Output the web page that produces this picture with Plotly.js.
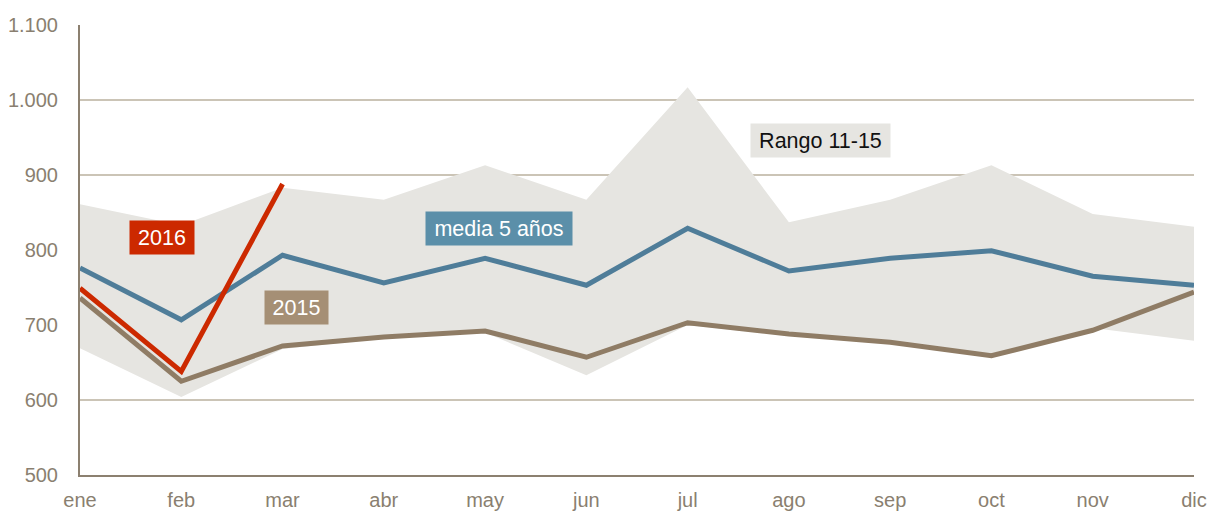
<!DOCTYPE html>
<html>
<head>
<meta charset="utf-8">
<script src="https://cdn.plot.ly/plotly-3.0.1.min.js"></script>
<style>html,body{margin:0;padding:0;background:#fff;}#chart{width:1211px;height:512px;}</style>
</head>
<body>
<div id="chart"></div>
<script>
var months = ["ene","feb","mar","abr","may","jun","jul","ago","sep","oct","nov","dic"];
var rangeUpper = [861, 833, 883, 867, 913, 867, 1017, 837, 867, 913, 848, 831];
var rangeLower = [669, 604, 668, 682, 690, 633, 700, 686, 675, 657, 696, 679];
var media5 = [776, 707, 793, 756, 789, 753, 829, 772, 789, 799, 765, 753];
var y2015 = [736, 625, 672, 684, 692, 657, 703, 688, 677, 659, 693, 744];
var y2016 = [749, 638, 888];
var yTicks = [500, 600, 700, 800, 900, 1000, 1100];
var yTickText = ["500", "600", "700", "800", "900", "1.000", "1.100"];

var xi = months.map(function(m, i){ return i; });
var font = "Liberation Sans, Arial, sans-serif";

var traces = [
  {x: xi, y: rangeLower, mode: "lines", line: {width: 0, color: "#e6e5e1"}, hoverinfo: "skip", showlegend: false},
  {x: xi, y: rangeUpper, mode: "lines", fill: "tonexty", fillcolor: "#e6e5e1", line: {width: 0, color: "#e6e5e1"}, hoverinfo: "skip", showlegend: false},
  {x: xi, y: media5, mode: "lines", line: {width: 5, color: "#4f7d99"}, showlegend: false},
  {x: xi, y: y2015, mode: "lines", line: {width: 5, color: "#8f7c65"}, showlegend: false},
  {x: xi.slice(0, y2016.length), y: y2016, mode: "lines", line: {width: 5, color: "#cc2900"}, showlegend: false}
];

function label(x, y, text, bg, color, w) {
  return {x: x, y: y, xref: "x", yref: "y", text: text, showarrow: false, bgcolor: bg,
    font: {family: font, size: 21.5, color: color}, borderpad: 0, width: w, height: 33,
    xanchor: "center", yanchor: "middle"};
}

var layout = {
  width: 1211, height: 512,
  margin: {l: 80, r: 17, t: 25, b: 37},
  paper_bgcolor: "#fff", plot_bgcolor: "#fff",
  font: {family: font, size: 20, color: "#8a7f70"},
  xaxis: {
    range: [0, 11], tickvals: xi, ticktext: months, showgrid: false, zeroline: false,
    showline: true, linecolor: "#8c8070", linewidth: 2, ticks: "", ticklabelstandoff: 6,
    tickfont: {family: font, size: 20, color: "#8a7f70"}, fixedrange: true
  },
  yaxis: {
    range: [500, 1100], tickvals: yTicks, ticktext: yTickText, showgrid: true,
    gridcolor: "#cbc4b6", gridwidth: 1.5, zeroline: false,
    showline: true, linecolor: "#8c8070", linewidth: 2, ticks: "", ticklabelstandoff: 16,
    tickfont: {family: font, size: 20, color: "#8a7f70"}, fixedrange: true
  },
  annotations: [
    label(0.81, 816.7, "2016", "#cc2900", "#ffffff", 64),
    label(2.14, 723, "2015", "#a58f75", "#ffffff", 63),
    label(4.14, 828.7, "media 5 años", "#5b8fa9", "#ffffff", 146),
    label(7.31, 946, "Rango 11-15", "#e6e5e1", "#111111", 139)
  ],
  showlegend: false
};

Plotly.newPlot("chart", traces, layout, {displayModeBar: false, staticPlot: true});
</script>
</body>
</html>
